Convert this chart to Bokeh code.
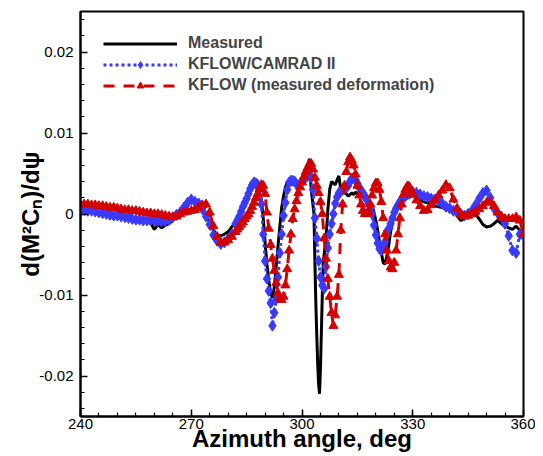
from bokeh.plotting import figure
from bokeh.models import Range1d, FixedTicker, Legend, LegendItem, CustomJSTickFormatter
from bokeh.embed import file_html
from bokeh.resources import INLINE

# ---------------- data ----------------
model_az = ([float(a) for a in range(240, 283)] +
            [282.5 + 0.5 * i for i in range(96)] +
            [float(a) for a in range(331, 361)])

kflow_camrad = [
    0.0005, 0.0005, 0.0004, 0.0004, 0.0003, 0.0002, 0.0001, 0.0000, -0.0001, -0.0002,
    -0.0002, -0.0003, -0.0004, -0.0005, -0.0006, -0.0007, -0.0007, -0.0008, -0.0008, -0.0008,
    -0.0008, -0.0009, -0.0009, -0.0009, -0.0007, -0.0004, -0.0001, 0.0002, 0.0008, 0.0014,
    0.0018, 0.0015, 0.0013, 0.0006, -0.0003, -0.0013, -0.0026, -0.0033, -0.0037, -0.0035,
    -0.0031, -0.0025, -0.0012,
    # 282.5 .. 330 step 0.5
    -0.0008, -0.0003, 0.0003, 0.0009, 0.0014, 0.0019, 0.0025, 0.0031, 0.0036, 0.0039,
    0.0038, 0.0036, 0.0031, 0.0012, -0.0025, -0.0058, -0.0080, -0.0095, -0.0110, -0.0138,
    -0.0122, -0.0105, -0.0078, -0.0048, -0.0025, -0.0002, 0.0014, 0.0030, 0.0039, 0.0041,
    0.0041, 0.0040, 0.0037, 0.0035, 0.0037, 0.0040, 0.0043, 0.0045, 0.0047, 0.0049,
    0.0045, 0.0030, -0.0005, -0.0030, -0.0058, -0.0078, -0.0088, -0.0092, -0.0065, -0.0042,
    -0.0025, -0.0012, 0.0000, 0.0013, 0.0021, 0.0026, 0.0028, 0.0030, 0.0031, 0.0033,
    0.0035, 0.0040, 0.0044, 0.0045, 0.0042, 0.0038, 0.0033, 0.0029, 0.0026, 0.0022,
    0.0018, 0.0013, 0.0007, 0.0000, -0.0014, -0.0026, -0.0036, -0.0043, -0.0045, -0.0040,
    -0.0034, -0.0025, -0.0018, -0.0012, -0.0005, 0.0002, 0.0007, 0.0011, 0.0015, 0.0018,
    0.0020, 0.0022, 0.0024, 0.0025, 0.0026, 0.0027,
    # 331 .. 360
    0.0026, 0.0024, 0.0022, 0.0021, 0.0019, 0.0018, 0.0016, 0.0013, 0.0009, 0.0007,
    0.0004, 0.0002, 0.0000, -0.0002, 0.0000, 0.0004, 0.0011, 0.0019, 0.0026, 0.0029,
    0.0020, 0.0007, 0.0001, -0.0004, -0.0012, -0.0027, -0.0045, -0.0048, -0.0025, -0.0027,
]

kflow_meas_def = [
    0.0012, 0.0012, 0.0012, 0.0011, 0.0011, 0.0010, 0.0010, 0.0009, 0.0008, 0.0008,
    0.0007, 0.0006, 0.0005, 0.0005, 0.0004, 0.0004, 0.0003, 0.0002, 0.0001, 0.0001,
    0.0000, 0.0000, -0.0001, -0.0002, -0.0003, -0.0004, -0.0003, 0.0000, 0.0002, 0.0003,
    0.0004, 0.0005, 0.0008, 0.0011, 0.0012, 0.0002, -0.0015, -0.0028, -0.0035, -0.0035,
    -0.0032, -0.0028, -0.0022,
    # 282.5 .. 330 step 0.5
    -0.0019, -0.0016, -0.0013, -0.0010, -0.0006, -0.0003, 0.0000, 0.0004, 0.0009, 0.0014,
    0.0020, 0.0025, 0.0031, 0.0036, 0.0035, 0.0025, 0.0002, -0.0018, -0.0038, -0.0055,
    -0.0070, -0.0085, -0.0098, -0.0104, -0.0106, -0.0102, -0.0088, -0.0068, -0.0045, -0.0025,
    -0.0006, 0.0006, 0.0016, 0.0026, 0.0033, 0.0039, 0.0046, 0.0052, 0.0057, 0.0062,
    0.0062, 0.0055, 0.0045, 0.0035, 0.0026, 0.0015, 0.0000, -0.0030, -0.0055, -0.0080,
    -0.0102, -0.0122, -0.0138, -0.0125, -0.0102, -0.0075, -0.0020, 0.0012, 0.0035, 0.0052,
    0.0064, 0.0070, 0.0066, 0.0060, 0.0049, 0.0035, 0.0023, 0.0012, 0.0004, 0.0000,
    0.0000, 0.0002, 0.0012, 0.0023, 0.0032, 0.0038, 0.0038, 0.0030, 0.0015, -0.0005,
    -0.0025, -0.0045, -0.0058, -0.0066, -0.0068, -0.0060, -0.0045, -0.0025, -0.0005, 0.0012,
    0.0024, 0.0030, 0.0034, 0.0034, 0.0030, 0.0025,
    # 331 .. 360
    0.0017, 0.0010, 0.0004, 0.0005, 0.0011, 0.0017, 0.0023, 0.0029, 0.0036, 0.0032,
    0.0018, 0.0007, 0.0000, -0.0003, -0.0002, 0.0000, 0.0003, 0.0006, 0.0010, 0.0014,
    0.0015, 0.0010, 0.0002, -0.0003, -0.0006, -0.0006, -0.0006, -0.0004, -0.0008, -0.0025,
]

measured_az = ([float(a) for a in range(240, 287)] +
               [286.5 + 0.5 * i for i in range(33)] +
               [303.25 + 0.25 * i for i in range(11)] +
               [306.5 + 0.5 * i for i in range(48)] +
               [float(a) for a in range(331, 361)])

measured = [
    0.0006, 0.0004, 0.0003, 0.0004, 0.0002, 0.0003, 0.0001, 0.0002, 0.0006, 0.0011,
    0.0003, 0.0000, -0.0002, -0.0001, -0.0004, -0.0005, -0.0006, -0.0008, -0.0009, -0.0011,
    -0.0019, -0.0013, -0.0017, -0.0014, -0.0012, -0.0008, -0.0003, 0.0003, 0.0010, 0.0016,
    0.0015, 0.0013, 0.0012, 0.0008, -0.0002, -0.0010, -0.0020, -0.0026, -0.0027, -0.0025,
    -0.0022, -0.0016, -0.0010, -0.0003, 0.0008, 0.0018, 0.0028,
    # 286.5 .. 302.5 step 0.5, 303
    0.0032, 0.0035, 0.0033, 0.0030, 0.0025, 0.0018, -0.0005, -0.0035, -0.0062, -0.0082,
    -0.0098, -0.0103, -0.0090, -0.0065, -0.0040, -0.0015, 0.0008, 0.0022, 0.0033, 0.0039,
    0.0042, 0.0044, 0.0042, 0.0038, 0.0035, 0.0033, 0.0035, 0.0040, 0.0043, 0.0048,
    0.0058, 0.0068, 0.0030,
    # 303.25 .. 305.75 step 0.25, 306
    0.0000, -0.0060, -0.0110, -0.0150, -0.0185, -0.0210, -0.0222, -0.0190, -0.0145, -0.0100,
    -0.0060,
    # 306.5 .. 330 step 0.5
    -0.0030, 0.0005, 0.0030, 0.0040, 0.0038, 0.0036, 0.0042, 0.0047, 0.0030, 0.0032,
    0.0028, 0.0025, 0.0022, 0.0024, 0.0026, 0.0024, 0.0027, 0.0025, 0.0026, 0.0024,
    0.0022, 0.0020, 0.0018, 0.0014, 0.0012, 0.0010, 0.0002, -0.0008, -0.0020, -0.0035,
    -0.0048, -0.0060, -0.0062, -0.0052, -0.0038, -0.0022, -0.0010, -0.0002, 0.0004, 0.0009,
    0.0012, 0.0015, 0.0019, 0.0021, 0.0023, 0.0024, 0.0024, 0.0023,
    # 331 .. 360
    0.0020, 0.0017, 0.0015, 0.0014, 0.0012, 0.0010, 0.0009, 0.0008, 0.0006, 0.0005,
    0.0004, -0.0002, -0.0008, -0.0006, 0.0004, 0.0006, 0.0000, -0.0006, -0.0013, -0.0016,
    -0.0015, -0.0012, -0.0008, -0.0012, -0.0015, -0.0017, -0.0019, -0.0015, -0.0020, -0.0030,
]

x_major = [240, 270, 300, 330, 360]
x_minor = list(range(240, 361, 5))
y_major = [-0.02, -0.01, 0.0, 0.01, 0.02]
y_minor = [round(-0.024 + 0.002 * i, 3) for i in range(25)]

series_labels = ["Measured", "KFLOW/CAMRAD II", "KFLOW (measured deformation)"]
x_title = "Azimuth angle, deg"
y_title = "d(M²Cₙ)/dψ"
BLUE = "#3a3aff"
RED = "#d40000"
FONT = "Liberation Sans"

# ---------------- figure ----------------
p = figure(width=535, height=456, output_backend="svg", toolbar_location=None,
           x_range=Range1d(240, 360), y_range=Range1d(-0.025, 0.025),
           min_border_left=80, min_border_right=12, min_border_top=11, min_border_bottom=40,
           background_fill_color="white", border_fill_color="white")
p.grid.visible = False
p.outline_line_color = "black"
p.outline_line_width = 2

p.xaxis.ticker = FixedTicker(ticks=x_major, minor_ticks=x_minor)
p.yaxis.ticker = FixedTicker(ticks=y_major, minor_ticks=y_minor)
p.yaxis.formatter = CustomJSTickFormatter(code="return Math.abs(tick) < 1e-9 ? '0' : tick.toFixed(2);")

for ax in (p.xaxis[0], p.yaxis[0]):
    ax.axis_line_width = 2
    ax.major_tick_in = 7
    ax.major_tick_out = 0
    ax.minor_tick_in = 4
    ax.minor_tick_out = 0
    ax.major_tick_line_width = 1.5
    ax.minor_tick_line_width = 1.2
    ax.major_label_text_font = FONT
    ax.major_label_text_font_size = "15px"
    ax.major_label_text_color = "black"
    ax.axis_label_text_font = FONT
    ax.axis_label_text_font_size = "24px"
    ax.axis_label_text_font_style = "bold"
    ax.axis_label_text_color = "black"

p.xaxis.axis_label = x_title
p.xaxis.major_label_standoff = 2
p.xaxis.axis_label_standoff = -7
p.yaxis.axis_label = y_title
p.yaxis.major_label_standoff = 7
p.yaxis.axis_label_standoff = -8

r_meas = p.line(measured_az, measured, line_color="black", line_width=3)

r_cam_l = p.line(model_az, kflow_camrad, line_color=BLUE, line_width=3, line_dash="3 3")
r_cam_s = p.scatter(model_az, kflow_camrad, marker="diamond", size=11,
                    fill_color=BLUE, line_color=BLUE)

r_def_l = p.line(model_az, kflow_meas_def, line_color=RED, line_width=3, line_dash="11 9")
r_def_s = p.scatter(model_az, kflow_meas_def, marker="triangle", size=9,
                    fill_color=RED, line_color=RED)

legend = Legend(items=[
    LegendItem(label=series_labels[0], renderers=[r_meas]),
    LegendItem(label=series_labels[1], renderers=[r_cam_l, r_cam_s]),
    LegendItem(label=series_labels[2], renderers=[r_def_l, r_def_s]),
], location="top_left")
legend.margin = 23
legend.padding = 10
legend.spacing = 3
legend.label_height = 17
legend.glyph_height = 17
legend.glyph_width = 74
legend.label_standoff = 11
legend.label_text_font = FONT
legend.label_text_font_size = "16px"
legend.label_text_font_style = "bold"
legend.border_line_color = None
legend.background_fill_alpha = 0
p.add_layout(legend)

open("out.html", "w").write(file_html(p, INLINE))
